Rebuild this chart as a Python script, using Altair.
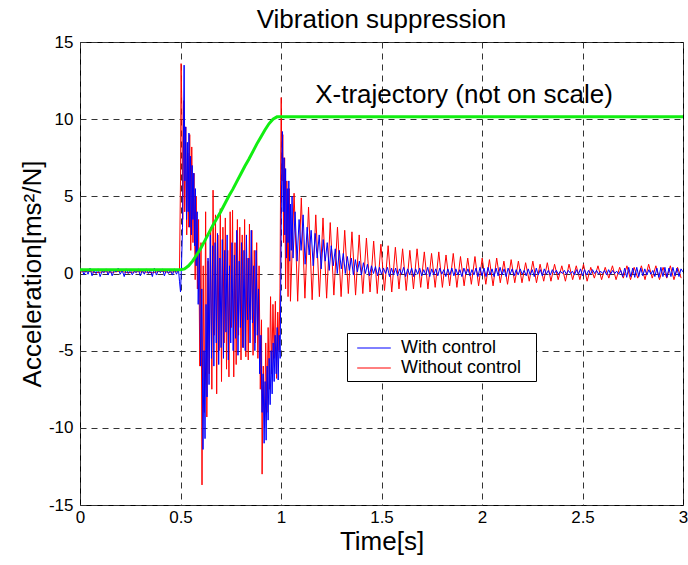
import altair as alt
import pandas as pd

# ---------------- data ----------------
# "Without control" (red): irregular samples through the motion phase
red_time_early = [0.00, 0.04, 0.08, 0.12, 0.16, 0.20, 0.24, 0.28, 0.32, 0.36, 0.40, 0.44, 0.48,
                  0.495, 0.500, 0.503, 0.507, 0.511, 0.516, 0.521, 0.526, 0.531, 0.536, 0.541, 0.546,
                  0.551, 0.556, 0.562, 0.567, 0.573, 0.578, 0.584, 0.590, 0.596, 0.602, 0.607, 0.613,
                  0.619, 0.625, 0.631, 0.637, 0.643, 0.650, 0.656, 0.662, 0.668, 0.674, 0.680, 0.686,
                  0.692, 0.698, 0.704, 0.711, 0.717, 0.723, 0.729, 0.735, 0.741, 0.747, 0.753, 0.759,
                  0.765, 0.771, 0.777, 0.783, 0.789, 0.795, 0.801, 0.807, 0.813, 0.819, 0.825, 0.831,
                  0.837, 0.843, 0.849, 0.855, 0.861, 0.867, 0.873, 0.879, 0.885, 0.891, 0.897, 0.903,
                  0.906, 0.912, 0.918, 0.924, 0.930, 0.936, 0.942, 0.948, 0.954, 0.960, 0.966, 0.972,
                  0.978, 0.984, 0.990, 0.995, 0.998, 1.001, 1.005, 1.009, 1.013, 1.018, 1.023, 1.029,
                  1.035, 1.041, 1.047]
red_value_early = [0.10, 0.15, 0.05, 0.12, 0.08, 0.15, 0.05, 0.12, 0.10, 0.05, 0.15, 0.08, 0.12,
                   0.3, 6.0, 13.6, 10.5, 3.5, 11.2, 4.0, 9.5, 2.5, 7.8, 3.0, 9.0,
                   1.5, 8.2, 2.0, 6.5, -0.4, 5.0, -1.0, 3.5, -6.0, 2.0, -13.7, 0.5,
                   -9.0, 4.0, -9.3, 0.8, -6.5, 3.0, -7.5, 5.4, -4.0, 3.8, -7.8, 2.5,
                   -5.0, 4.2, -7.0, 3.0, -4.5, 3.6, -6.2, 1.5, -6.7, 4.0, -3.5, 4.1,
                   -6.7, 2.0, -5.9, 3.5, -4.0, 3.0, -5.6, 2.5, -4.8, 3.5, -5.4, 1.0,
                   -5.6, 3.2, -3.0, 2.8, -5.3, 1.5, -4.5, 2.0, -5.5, 0.5, -7.5, -3.0,
                   -13.0, -6.0, -10.0, -4.5, -9.0, -3.5, -7.5, -1.5, -6.5, -2.0, -5.5, -1.8,
                   -6.8, -2.5, -5.0, -1.0, 6.0, 11.4, 6.0, 9.0, 2.0, 7.5, -1.0, 6.0,
                   -1.5, 5.5, -1.8]
# decaying residual vibration (red), peaks/troughs sampled every 0.018 s from 1.065 s
red_late_start = 1.065
red_late_step = 0.018
red_value_late = [5.2, -1.8, 4.9, -1.6, 4.3, -1.7, 3.8, -1.5, 3.6, -1.6,
                  3.3, -1.4, 3.0, -1.5, 2.8, -1.3, 2.7, -1.4, 2.5, -1.3,
                  2.3, -1.2, 2.1, -1.3, 1.9, -1.1, 1.8, -1.2, 1.7, -1.0,
                  1.6, -1.1, 1.5, -1.0, 1.6, -0.9, 1.4, -1.0, 1.3, -0.9,
                  1.4, -0.9, 1.2, -0.8, 1.3, -0.9, 1.1, -0.8, 1.0, -0.7,
                  1.1, -0.8, 1.0, -0.7, 0.9, -0.8, 1.0, -0.6, 0.8, -0.7,
                  0.9, -0.6, 0.8, -0.6, 0.7, -0.5, 0.8, -0.6, 0.6, -0.5,
                  0.7, -0.5, 0.6, -0.4, 0.5, -0.5, 0.6, -0.4, 0.5, -0.4,
                  0.6, -0.5, 0.4, -0.3, 0.5, -0.4, 0.4, -0.3, 0.5, -0.4,
                  0.4, -0.3, 0.5, -0.4, 0.4, -0.3, 0.5, -0.4, 0.6, -0.3,
                  0.5, -0.4, 0.4, -0.3, 0.5, -0.4, 0.4, -0.3]

# "With control" (blue)
blue_early_step = 0.01
blue_value_early = [0.1, 0.3, -0.1, 0.25, -0.05, 0.35, -0.15, 0.2, 0.0, 0.3,
                    -0.2, 0.15, 0.05, 0.3, -0.1, 0.25, -0.15, 0.2, 0.1, 0.35,
                    -0.05, 0.2, -0.2, 0.3, 0.0, 0.25, -0.1, 0.15, 0.05, 0.3,
                    -0.15, 0.2, -0.05, 0.3, 0.0, 0.25, -0.2, 0.35, -0.1, 0.2,
                    0.05, 0.3, -0.15, 0.25, 0.0, 0.2, -0.1, 0.3, -0.05, 0.25]
blue_time_mid = [0.495, 0.500, 0.505, 0.510, 0.514, 0.518, 0.522, 0.526, 0.530, 0.534, 0.538,
                 0.542, 0.546, 0.550, 0.554, 0.558, 0.562, 0.566, 0.570, 0.574, 0.578, 0.583,
                 0.588, 0.594, 0.600, 0.606, 0.612, 0.617, 0.622, 0.627, 0.632, 0.637, 0.642,
                 0.648, 0.654, 0.660, 0.666, 0.672, 0.678, 0.684, 0.690, 0.696, 0.702, 0.708,
                 0.714, 0.720, 0.726, 0.732, 0.738, 0.744, 0.750, 0.756, 0.762, 0.768, 0.774,
                 0.780, 0.786, 0.792, 0.798, 0.804, 0.810, 0.816, 0.822, 0.828, 0.834, 0.840,
                 0.846, 0.852, 0.858, 0.864, 0.870, 0.876, 0.882, 0.888, 0.894, 0.900, 0.906,
                 0.911, 0.916, 0.921, 0.926, 0.931, 0.936, 0.941, 0.946, 0.951, 0.956, 0.961,
                 0.966, 0.971, 0.976, 0.981, 0.986, 0.991, 0.996, 0.999, 1.003, 1.007, 1.011,
                 1.015, 1.019, 1.023, 1.027, 1.031, 1.035, 1.039, 1.043, 1.047, 1.051, 1.055]
blue_value_mid = [-0.5, -1.2, 0.5, 3.0, 8.0, 13.5, 6.0, 9.5, 3.5, 8.5, 4.0,
                  9.1, 3.0, 7.6, 2.5, 7.0, 3.5, 6.5, 1.8, 5.5, 0.5, 4.0,
                  -2.0, 1.5, -6.0, -1.0, -11.4, -5.0, -10.7, -2.0, -8.0, 1.0, -7.2,
                  2.5, -5.5, 1.8, -6.0, 2.0, -4.5, 2.6, -5.9, 1.0, -4.8, 2.2,
                  -5.5, 1.5, -3.8, 2.5, -5.6, 0.5, -4.5, 2.0, -5.0, 1.2, -4.2,
                  2.8, -5.3, 0.8, -3.5, 2.0, -4.8, 1.5, -5.0, 2.5, -3.0, 1.0,
                  -4.5, 2.8, -3.2, 0.5, -5.0, 1.5, -4.0, -1.0, -6.5, -4.0, -9.0,
                  -6.5, -11.0, -7.0, -10.8, -6.0, -9.5, -5.5, -8.5, -5.0, -7.8, -4.5,
                  -7.0, -4.0, -6.5, -3.5, -6.9, -4.0, -5.5, 0.0, 6.0, 9.2, 4.0,
                  7.5, 2.5, 6.8, 1.0, 5.5, 2.0, 6.0, 0.8, 4.5, 1.5, 5.0]
blue_late_start = 1.06
blue_late_step = 0.01
blue_value_late = [1.0, 4.0, 0.8, 3.5, 1.5, 3.8, 0.6, 3.0, 1.2, 2.8,
                   0.5, 2.6, 1.0, 2.5, 0.3, 2.2, 0.8, 2.0, 0.2, 1.8,
                   0.5, 1.6, 0.0, 1.5, 0.3, 1.3, 0.0, 1.1, 0.2, 1.0,
                   -0.1, 0.9, 0.1, 0.8, -0.1, 0.7, 0.0, 0.6, -0.15, 0.5,
                   0.0, 0.45, -0.15, 0.4, -0.05, 0.35, 0.0, 0.4, -0.2, 0.35,
                   -0.1, 0.35, -0.15, 0.3, -0.05, 0.4, -0.2, 0.3, -0.1, 0.35,
                   -0.2, 0.3, -0.05, 0.35, -0.15, 0.25, -0.1, 0.4, -0.2, 0.3,
                   -0.1, 0.3, -0.15, 0.35, -0.05, 0.25, -0.2, 0.3, -0.1, 0.35,
                   -0.15, 0.3, -0.1, 0.25, -0.2, 0.35, -0.05, 0.3, -0.15, 0.25,
                   -0.1, 0.35, -0.2, 0.4, -0.15, 0.35, -0.2, 0.4, -0.1, 0.3,
                   -0.2, 0.35, -0.15, 0.4, -0.1, 0.3, -0.2, 0.35, -0.05, 0.3,
                   -0.15, 0.25, -0.1, 0.3, -0.05, 0.2, -0.15, 0.3, -0.1, 0.25,
                   -0.2, 0.35, -0.1, 0.25, -0.15, 0.3, -0.05, 0.2, -0.1, 0.25,
                   0.0, 0.2, -0.05, 0.15, 0.0, 0.2, -0.05, 0.2, 0.0, 0.15,
                   -0.1, 0.25, -0.05, 0.3, -0.15, 0.25, -0.1, 0.2, -0.05, 0.25,
                   0.0, 0.2, -0.05, 0.15, 0.0, 0.2, -0.1, 0.25, -0.05, 0.2,
                   0.0, 0.15, -0.05, 0.2, -0.2, 0.35, -0.25, 0.4, -0.2, 0.35,
                   -0.25, 0.4, -0.2, 0.35, -0.15, 0.3, -0.1, 0.25, -0.05, 0.2,
                   -0.2, 0.35, -0.25, 0.4, -0.2, 0.4, -0.25, 0.35, -0.2, 0.4,
                   -0.15, 0.35, -0.2, 0.3, 0.1]

# X-trajectory (green, not on scale)
traj_time = [0.0, 0.50, 0.52, 0.54, 0.56, 0.58, 0.60, 0.62, 0.64, 0.66, 0.68, 0.70, 0.72, 0.74,
             0.76, 0.78, 0.80, 0.82, 0.84, 0.86, 0.88, 0.90, 0.92, 0.94, 0.96, 0.98, 1.00, 3.00]
traj_value = [0.25, 0.25, 0.3, 0.5, 0.8, 1.2, 1.6, 2.1, 2.6, 3.1, 3.55, 4.0, 4.5, 5.0,
              5.45, 5.95, 6.45, 6.95, 7.4, 7.9, 8.4, 8.85, 9.3, 9.7, 10.0, 10.15, 10.15, 10.15]

series_names = ["With control", "Without control"]
series_colors = ["#0000ff", "#ff0000"]
x_ticks = [0, 0.5, 1, 1.5, 2, 2.5, 3]
y_ticks = [-15, -10, -5, 0, 5, 10, 15]
note_text = "X-trajectory (not on scale)"
note_pos = (1.17, 11.05)

# ---------------- tables ----------------
red_t = red_time_early + [round(red_late_start + i * red_late_step, 4) for i in range(len(red_value_late))]
red_v = red_value_early + red_value_late
red_df = pd.DataFrame({"t": red_t, "a": red_v, "series": "Without control"})

blue_t = ([round(i * blue_early_step, 4) for i in range(len(blue_value_early))] + blue_time_mid +
          [round(blue_late_start + i * blue_late_step, 4) for i in range(len(blue_value_late))])
blue_v = blue_value_early + blue_value_mid + blue_value_late
blue_df = pd.DataFrame({"t": blue_t, "a": blue_v, "series": "With control"})

traj_df = pd.DataFrame({"t": traj_time, "a": traj_value})
note_df = pd.DataFrame({"t": [note_pos[0]], "a": [note_pos[1]], "label": [note_text]})

FONT = "Liberation Sans"

x_enc = alt.X("t:Q", scale=alt.Scale(domain=[0, 3], nice=False, zero=False),
              axis=alt.Axis(values=x_ticks, labelExpr="'' + datum.value", title="Time[s]",
                            grid=True, ticks=False, labelPadding=4, titlePadding=3,
                            labelFontSize=17, titleFontSize=26, labelFlush=False))
y_enc = alt.Y("a:Q", scale=alt.Scale(domain=[-15, 15], nice=False, zero=False),
              axis=alt.Axis(values=y_ticks, labelExpr="'' + datum.value", title="Acceleration[ms²/N]",
                            grid=True, ticks=False, labelPadding=7, titlePadding=3,
                            labelFontSize=17, titleFontSize=26, labelFlush=False))

color_enc = alt.Color("series:N",
                      scale=alt.Scale(domain=series_names, range=series_colors),
                      legend=alt.Legend(title="_", titleOrient="right", titleColor="white",
                                        titleFontSize=18, titlePadding=0,
                                        orient="none", legendX=267, legendY=291,
                                        direction="vertical", strokeColor="black", fillColor="white",
                                        padding=4, symbolType="M-1.6,0H1.6", symbolSize=441,
                                        symbolStrokeWidth=1, labelFontSize=18, labelOffset=16,
                                        symbolOffset=12, rowPadding=0, labelFont=FONT,
                                        labelColor="black", cornerRadius=0))

red = alt.Chart(red_df).mark_line(strokeWidth=1, clip=True).encode(x=x_enc, y=y_enc, color=color_enc)
blue = alt.Chart(blue_df).mark_line(strokeWidth=1, clip=True).encode(x=x_enc, y=y_enc, color=color_enc)
traj = alt.Chart(traj_df).mark_line(strokeWidth=3, color="#11ee11", clip=True).encode(x=x_enc, y=y_enc)
note = alt.Chart(note_df).mark_text(align="left", baseline="alphabetic", fontSize=26, font=FONT,
                                    color="black").encode(x=x_enc, y=y_enc, text="label:N")

chart = (alt.layer(red, blue, traj, note)
         .properties(width=603, height=463,
                     title=alt.TitleParams("Vibration suppression", fontSize=26, font=FONT,
                                           fontWeight="normal", color="black", anchor="middle",
                                           baseline="alphabetic", offset=2, dy=23),
                     autosize="none",
                     padding={"left": 80, "top": 42, "right": 5, "bottom": 60})
         .configure(font=FONT, background="white")
         .configure_view(stroke="black", strokeWidth=1)
         .configure_axis(gridColor="#333333", gridDash=[6, 5], gridWidth=1, gridOpacity=1,
                         domain=False, labelColor="black", titleColor="black",
                         labelFont=FONT, titleFont=FONT, titleFontWeight="normal"))

chart.save("out.html", embed_options={"renderer": "svg", "actions": False})
